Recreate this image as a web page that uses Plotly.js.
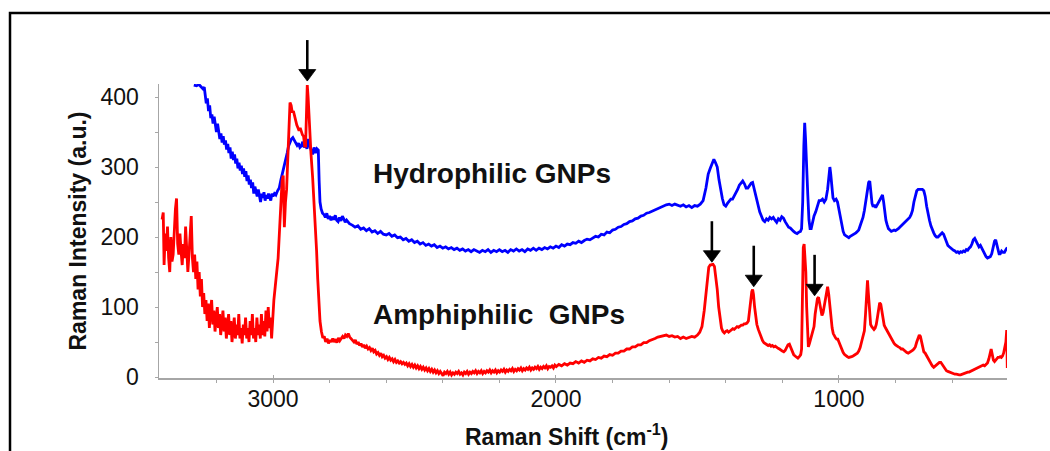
<!DOCTYPE html>
<html><head><meta charset="utf-8">
<script src="https://cdn.plot.ly/plotly-3.0.1.min.js"></script>
<style>html,body{margin:0;padding:0;background:#fff}#chart{width:1050px;height:451px}</style>
</head><body><div id="chart"></div>
<script>
// Raman shift (cm-1), intensity (a.u.) pairs
const hydrophilicSpectrum = [[3280,417],[3270,416],[3262,418],[3255,415],[3248,412],[3243,414],[3240,400],[3236,391],[3232,398],[3228,380],[3224,388],[3220,370],[3216,375],[3212,362],[3208,372],[3204,358],[3200,350],[3196,362],[3192,352],[3188,340],[3184,348],[3180,335],[3176,344],[3172,332],[3168,338],[3164,325],[3160,333],[3156,320],[3152,328],[3148,312],[3144,322],[3140,310],[3136,318],[3132,305],[3128,312],[3124,298],[3120,306],[3116,295],[3112,302],[3108,290],[3104,298],[3100,286],[3096,294],[3092,280],[3088,288],[3084,275],[3080,282],[3076,270],[3072,278],[3068,262],[3064,272],[3060,266],[3056,258],[3052,268],[3048,260],[3044,250],[3040,262],[3036,256],[3032,264],[3028,252],[3024,260],[3020,255],[3016,262],[3012,258],[3008,252],[3004,262],[3000,258],[2995,262],[2990,260],[2984,266],[2978,270],[2972,282],[2966,292],[2960,300],[2955,310],[2950,320],[2945,330],[2940,335],[2935,340],[2930,342],[2925,338],[2920,336],[2915,331],[2910,334],[2905,328],[2900,330],[2895,336],[2890,328],[2885,332],[2880,326],[2875,340],[2870,330],[2865,325],[2860,318],[2855,328],[2850,320],[2845,326],[2840,324],[2837,280],[2834,250],[2830,240],[2825,234],[2820,232],[2815,228],[2810,234],[2805,226],[2800,230],[2795,224],[2790,229],[2785,225],[2780,231],[2775,224],[2770,222],[2765,228],[2760,223],[2755,230],[2750,226],[2745,221],[2740,224],[2730,219],[2720,217],[2710,214],[2700,216],[2690,211],[2680,213],[2670,209],[2660,212],[2650,207],[2640,209],[2630,205],[2620,208],[2610,204],[2600,203],[2590,205],[2580,201],[2570,203],[2560,199],[2550,200],[2540,196],[2530,198],[2520,194],[2510,196],[2500,192],[2490,194],[2480,190],[2470,192],[2460,188],[2450,190],[2440,187],[2430,189],[2420,185],[2410,187],[2400,184],[2390,186],[2380,183],[2370,185],[2360,182],[2350,184],[2340,181],[2330,183],[2320,180],[2310,182],[2300,179],[2290,182],[2280,180],[2270,178],[2260,181],[2250,179],[2240,182],[2230,178],[2220,181],[2210,179],[2200,182],[2190,179],[2180,181],[2170,178],[2160,182],[2150,180],[2140,183],[2130,180],[2120,182],[2110,179],[2100,183],[2090,181],[2080,184],[2070,181],[2060,184],[2050,182],[2040,185],[2030,183],[2020,186],[2010,184],[2000,187],[1990,185],[1980,189],[1970,187],[1960,190],[1950,189],[1940,192],[1930,191],[1920,194],[1910,192],[1900,195],[1890,197],[1880,196],[1870,199],[1860,201],[1850,200],[1840,204],[1830,203],[1820,207],[1810,206],[1800,210],[1790,211],[1780,214],[1770,215],[1760,218],[1750,219],[1740,222],[1730,223],[1720,226],[1710,227],[1700,230],[1690,231],[1680,234],[1670,235],[1660,237],[1650,238],[1640,240],[1630,243],[1620,244],[1610,246],[1600,247],[1590,245],[1580,247],[1570,246],[1560,244],[1550,246],[1540,243],[1530,245],[1520,242],[1510,245],[1500,244],[1490,247],[1480,252],[1470,270],[1462,290],[1455,298],[1448,306],[1442,311],[1436,306],[1430,300],[1424,282],[1418,266],[1412,255],[1406,246],[1400,244],[1394,248],[1388,251],[1382,254],[1376,254],[1370,258],[1364,262],[1358,268],[1352,274],[1346,278],[1340,280],[1334,276],[1328,270],[1322,270],[1316,274],[1310,277],[1305,278],[1300,270],[1295,258],[1290,250],[1285,244],[1280,236],[1274,230],[1268,224],[1262,222],[1256,226],[1250,224],[1244,228],[1238,226],[1232,228],[1226,224],[1220,221],[1214,226],[1208,224],[1202,229],[1196,227],[1190,222],[1184,218],[1178,214],[1172,213],[1166,210],[1160,208],[1154,206],[1148,205],[1142,207],[1136,208],[1132,212],[1128,250],[1124,330],[1121,363],[1118,340],[1114,290],[1110,260],[1106,225],[1102,212],[1098,212],[1094,220],[1088,230],[1082,236],[1076,246],[1070,252],[1064,252],[1058,254],[1052,250],[1046,254],[1040,268],[1035,292],[1032,300],[1029,290],[1025,268],[1021,256],[1016,252],[1010,254],[1005,250],[1000,240],[995,228],[990,216],[985,208],[980,203],[975,202],[970,200],[965,199],[960,201],[955,202],[950,204],[945,204],[940,206],[935,208],[930,210],[925,216],[920,222],[915,228],[910,238],[905,250],[900,262],[895,278],[891,280],[887,262],[883,248],[879,243],[875,246],[870,242],[866,245],[862,250],[858,252],[854,256],[850,258],[846,260],[842,250],[838,236],[834,224],[830,218],[825,212],[820,210],[815,208],[810,209],[805,210],[800,209],[795,210],[790,212],[785,214],[780,216],[775,218],[770,220],[765,222],[760,224],[755,226],[750,228],[745,232],[740,238],[735,250],[730,260],[725,266],[720,268],[715,268],[710,269],[705,268],[700,266],[695,258],[690,244],[685,232],[680,224],[675,216],[670,210],[665,206],[660,202],[655,200],[650,200],[645,202],[640,204],[635,206],[630,204],[625,198],[620,192],[615,188],[610,186],[605,184],[600,182],[595,181],[590,180],[585,178],[580,179],[575,177],[570,179],[565,178],[560,180],[555,179],[550,182],[545,181],[540,184],[535,186],[530,190],[525,196],[520,198],[515,194],[510,188],[505,186],[500,188],[495,184],[490,178],[485,174],[480,172],[475,170],[470,171],[465,172],[460,176],[455,184],[450,194],[446,196],[442,188],[438,180],[434,176],[430,176],[425,180],[420,178],[415,178],[410,182],[405,185]];

const amphiphilicSpectrum = [[3392,225],[3388,235],[3385,160],[3381,205],[3377,180],[3373,215],[3369,170],[3365,150],[3361,200],[3357,165],[3353,175],[3349,210],[3345,240],[3341,255],[3337,190],[3333,175],[3329,205],[3325,180],[3321,160],[3317,190],[3313,170],[3309,215],[3305,185],[3301,150],[3297,175],[3293,215],[3289,230],[3285,170],[3281,150],[3277,175],[3273,140],[3269,165],[3265,125],[3261,150],[3257,115],[3253,140],[3249,100],[3245,120],[3241,90],[3237,110],[3233,80],[3229,105],[3225,70],[3221,95],[3217,110],[3213,75],[3209,95],[3205,65],[3201,85],[3197,100],[3193,70],[3189,90],[3185,60],[3181,80],[3177,95],[3173,65],[3169,85],[3165,55],[3161,75],[3157,90],[3153,60],[3149,80],[3145,50],[3141,70],[3137,85],[3133,55],[3129,75],[3125,60],[3121,90],[3117,55],[3113,70],[3109,48],[3105,75],[3101,60],[3097,85],[3093,55],[3089,70],[3085,50],[3081,80],[3077,60],[3073,90],[3069,55],[3065,70],[3061,50],[3057,85],[3053,60],[3049,75],[3045,55],[3041,90],[3037,60],[3033,80],[3029,58],[3025,95],[3021,65],[3017,100],[3013,70],[3009,85],[3005,55],[3001,95],[2997,110],[2992,130],[2987,150],[2982,170],[2977,210],[2972,250],[2968,280],[2964,288],[2960,214],[2956,250],[2952,268],[2948,310],[2944,350],[2940,392],[2936,388],[2932,378],[2928,380],[2924,372],[2920,365],[2916,360],[2912,356],[2908,352],[2904,356],[2900,350],[2896,346],[2892,344],[2888,330],[2885,330],[2882,390],[2879,417],[2876,400],[2872,357],[2866,320],[2860,285],[2855,250],[2850,215],[2846,180],[2842,140],[2838,100],[2834,80],[2829,65],[2824,56],[2819,58],[2814,50],[2809,55],[2804,48],[2799,53],[2794,50],[2789,55],[2784,50],[2779,54],[2774,49],[2769,56],[2764,52],[2759,55],[2754,58],[2749,55],[2744,60],[2739,58],[2734,62],[2729,57],[2724,55],[2719,52],[2714,50],[2709,53],[2704,47],[2699,50],[2694,45],[2689,48],[2684,43],[2679,46],[2674,41],[2669,44],[2664,40],[2659,42],[2654,38],[2649,41],[2644,36],[2639,38],[2634,33],[2629,35],[2624,31],[2619,34],[2614,29],[2609,31],[2604,27],[2599,29],[2594,25],[2589,28],[2584,24],[2579,26],[2574,22],[2569,25],[2564,21],[2559,23],[2554,20],[2549,22],[2544,19],[2539,21],[2534,18],[2529,20],[2524,16],[2519,19],[2514,15],[2509,18],[2504,14],[2499,17],[2494,13],[2489,16],[2484,12],[2479,15],[2474,11],[2469,14],[2464,10],[2459,13],[2454,9],[2449,12],[2444,8],[2439,11],[2434,7],[2429,10],[2424,6],[2419,9],[2414,5],[2409,8],[2404,4],[2399,2],[2394,7],[2389,5],[2384,8],[2379,4],[2374,7],[2369,3],[2364,6],[2359,4],[2354,7],[2349,5],[2344,8],[2339,4],[2334,6],[2329,3],[2324,7],[2319,5],[2314,8],[2309,4],[2304,7],[2299,5],[2294,8],[2289,6],[2284,9],[2279,5],[2274,8],[2269,6],[2264,9],[2259,5],[2254,8],[2249,6],[2244,9],[2239,7],[2234,10],[2229,6],[2224,9],[2219,7],[2214,10],[2209,6],[2204,9],[2199,7],[2194,10],[2189,8],[2184,11],[2179,7],[2174,10],[2169,8],[2164,11],[2159,9],[2154,12],[2149,8],[2144,11],[2139,9],[2134,12],[2129,10],[2124,13],[2119,9],[2114,12],[2109,10],[2104,13],[2099,11],[2094,14],[2089,10],[2084,13],[2079,11],[2074,14],[2069,12],[2064,15],[2059,11],[2054,14],[2049,12],[2044,15],[2039,13],[2034,16],[2029,12],[2024,15],[2019,14],[2014,16],[2009,13],[2004,17],[1999,15],[1990,18],[1980,16],[1970,19],[1960,17],[1950,20],[1940,19],[1930,22],[1920,20],[1910,23],[1900,21],[1890,24],[1880,23],[1870,26],[1860,25],[1850,28],[1840,27],[1830,30],[1820,29],[1810,32],[1800,31],[1790,34],[1780,34],[1770,37],[1760,37],[1750,40],[1740,40],[1730,43],[1720,43],[1710,46],[1700,46],[1690,49],[1680,49],[1670,52],[1660,53],[1650,55],[1640,57],[1630,58],[1620,59],[1610,60],[1600,58],[1590,59],[1580,57],[1570,58],[1560,55],[1550,57],[1540,55],[1530,56],[1520,58],[1510,57],[1500,60],[1492,64],[1484,72],[1476,95],[1470,120],[1465,145],[1460,157],[1455,160],[1450,160],[1445,161],[1440,158],[1435,145],[1430,125],[1425,100],[1420,82],[1415,70],[1410,65],[1405,63],[1400,65],[1395,66],[1390,64],[1385,66],[1380,67],[1375,69],[1370,68],[1365,70],[1360,72],[1355,71],[1350,73],[1345,74],[1340,74],[1335,76],[1330,76],[1325,77],[1320,80],[1316,95],[1312,110],[1308,122],[1305,125],[1302,118],[1298,100],[1294,85],[1290,75],[1285,68],[1280,62],[1275,56],[1270,52],[1265,49],[1260,48],[1255,47],[1250,45],[1245,46],[1240,44],[1235,45],[1230,43],[1225,44],[1220,42],[1215,41],[1210,40],[1205,38],[1200,37],[1195,36],[1190,38],[1185,42],[1180,46],[1175,47],[1170,42],[1165,36],[1160,32],[1155,30],[1150,28],[1145,27],[1140,29],[1135,32],[1132,40],[1129,120],[1126,185],[1123,190],[1120,175],[1117,150],[1114,100],[1111,55],[1108,43],[1104,48],[1100,55],[1096,62],[1092,68],[1088,72],[1084,90],[1080,105],[1076,112],[1072,114],[1068,105],[1064,95],[1060,88],[1056,92],[1052,100],[1048,108],[1044,120],[1040,129],[1036,118],[1032,100],[1028,82],[1024,70],[1020,62],[1016,58],[1012,56],[1008,54],[1004,54],[1000,50],[995,44],[990,38],[985,35],[980,32],[975,30],[970,29],[965,28],[960,28],[955,29],[950,30],[945,31],[940,32],[935,34],[930,37],[925,42],[920,50],[915,58],[910,66],[906,90],[902,125],[899,138],[896,120],[892,90],[888,75],[884,72],[880,69],[876,68],[872,70],[868,75],[864,85],[860,97],[856,106],[852,104],[848,94],[844,82],[840,74],[835,70],[830,66],[825,62],[820,58],[815,56],[810,52],[805,48],[800,46],[795,44],[790,43],[785,42],[780,40],[775,40],[770,38],[765,36],[760,35],[755,34],[750,35],[745,36],[740,38],[735,40],[730,43],[725,50],[720,56],[716,60],[712,58],[708,50],[704,42],[700,36],[695,34],[690,30],[685,27],[680,24],[675,20],[670,16],[665,14],[660,16],[655,18],[650,20],[645,21],[640,21],[635,18],[630,14],[625,11],[620,9],[615,8],[610,7],[605,6],[600,6],[595,5],[590,4],[585,4],[580,3],[575,3],[570,3],[565,4],[560,4],[555,5],[550,6],[545,7],[540,7],[535,8],[530,9],[525,10],[520,11],[515,12],[510,13],[505,14],[500,15],[495,16],[490,17],[485,16],[480,18],[475,20],[470,26],[466,36],[462,40],[458,32],[454,24],[450,22],[446,24],[442,26],[438,28],[434,28],[430,29],[426,28],[422,30],[418,34],[414,40],[410,50],[407,67],[405,13]];

const seriesNames = ['Hydrophilic GNPs', 'Amphiphilic\u00a0 GNPs'];
const seriesColors = ['#0000ff', '#ff0000'];
// marked peaks (Raman shift) and the intensity at the arrow tip; null = tip sits just above the plot top
const arrowShifts = [2879, 1449, 1301, 1086];
const arrowIntensities = [null, 164, 129, 116];
const xTicks = [3000, 2000, 1000];
const yTicks = [0, 100, 200, 300, 400];
const xTitle = 'Raman Shift (cm<sup>-1</sup>)';
const yTitle = 'Raman Intensity (a.u.)';

const FONT = '"Liberation Sans", Arial, Helvetica, sans-serif';
const TXT = '#111';

const traces = [hydrophilicSpectrum, amphiphilicSpectrum].map((s, i) => ({
  type: 'scatter', mode: 'lines', name: seriesNames[i],
  x: s.map(p => p[0]), y: s.map(p => p[1]),
  line: {color: seriesColors[i], width: 2.8}, showlegend: false, hoverinfo: 'skip'
}));

// arrows drawn as pixel-sized shapes anchored at the peak positions
const shapes = [];
arrowShifts.forEach((x, i) => {
  const anchor = arrowIntensities[i] === null ? {yref: 'paper', yanchor: 1.01} : {yref: 'y', yanchor: arrowIntensities[i]};
  const base = Object.assign({xref: 'x', xsizemode: 'pixel', xanchor: x, ysizemode: 'pixel', layer: 'above'}, anchor);
  shapes.push(Object.assign({}, base, {type: 'path', path: 'M0,9 L0,41', line: {color: '#000', width: 2.6}}));
  shapes.push(Object.assign({}, base, {type: 'path', path: 'M0,0 L-8.5,11.5 L8.5,11.5 Z', fillcolor: '#000', line: {color: '#000', width: 0.8}}));
});
// outer frame of the figure (only its left and top edges fall inside the picture)
shapes.push({type: 'rect', xref: 'paper', yref: 'paper', x0: -0.1757, x1: 1.3, y0: -0.6, y1: 1.2415,
  line: {color: '#000', width: 2.5}, fillcolor: 'rgba(0,0,0,0)', layer: 'above'});

const annotations = [
  {x: 2653, y: 291, xref: 'x', yref: 'y', xanchor: 'left', yanchor: 'middle', showarrow: false,
   text: seriesNames[0], font: {family: FONT, size: 28, color: TXT, weight: 'bold'}},
  {x: 2653, y: 90, xref: 'x', yref: 'y', xanchor: 'left', yanchor: 'middle', showarrow: false,
   text: seriesNames[1], font: {family: FONT, size: 28, color: TXT, weight: 'bold'}},
  {x: 0.481, y: -0.194, xref: 'paper', yref: 'paper', xanchor: 'center', yanchor: 'middle', showarrow: false,
   text: xTitle, font: {family: FONT, size: 23, color: TXT, weight: 'bold'}}
];

const axisCommon = {
  showline: true, linecolor: '#a6a6a6', linewidth: 1.5, showgrid: false, zeroline: false,
  ticklen: 3, tickwidth: 1, tickcolor: '#a6a6a6',
  tickfont: {family: FONT, size: 23, color: TXT}
};

const layout = {
  width: 1050, height: 451,
  margin: {l: 159, r: 43, t: 84, b: 73, pad: 0},
  paper_bgcolor: '#fff', plot_bgcolor: '#fff',
  font: {family: FONT, color: TXT},
  xaxis: Object.assign({}, axisCommon, {
    range: [3403, 406], tickmode: 'array', tickvals: xTicks, ticktext: xTicks.map(String),
    ticks: 'inside',
    minor: {tickmode: 'linear', tick0: 0, dtick: 200, ticks: 'outside', ticklen: 3, tickcolor: '#a6a6a6'},
    ticklabelstandoff: 0
  }),
  yaxis: Object.assign({}, axisCommon, {
    range: [-1.4, 418.6], tickmode: 'array', tickvals: yTicks, ticktext: yTicks.map(String),
    ticks: 'outside',
    minor: {tickmode: 'linear', tick0: 0, dtick: 50, ticks: 'outside', ticklen: 3, tickcolor: '#a6a6a6'},
    ticklabelstandoff: 11,
    title: {text: yTitle, font: {family: FONT, size: 23, color: TXT, weight: 'bold'}, standoff: 7}
  }),
  annotations: annotations,
  shapes: shapes
};

Plotly.newPlot('chart', traces, layout, {displayModeBar: false, staticPlot: true});
</script>
</body></html>
